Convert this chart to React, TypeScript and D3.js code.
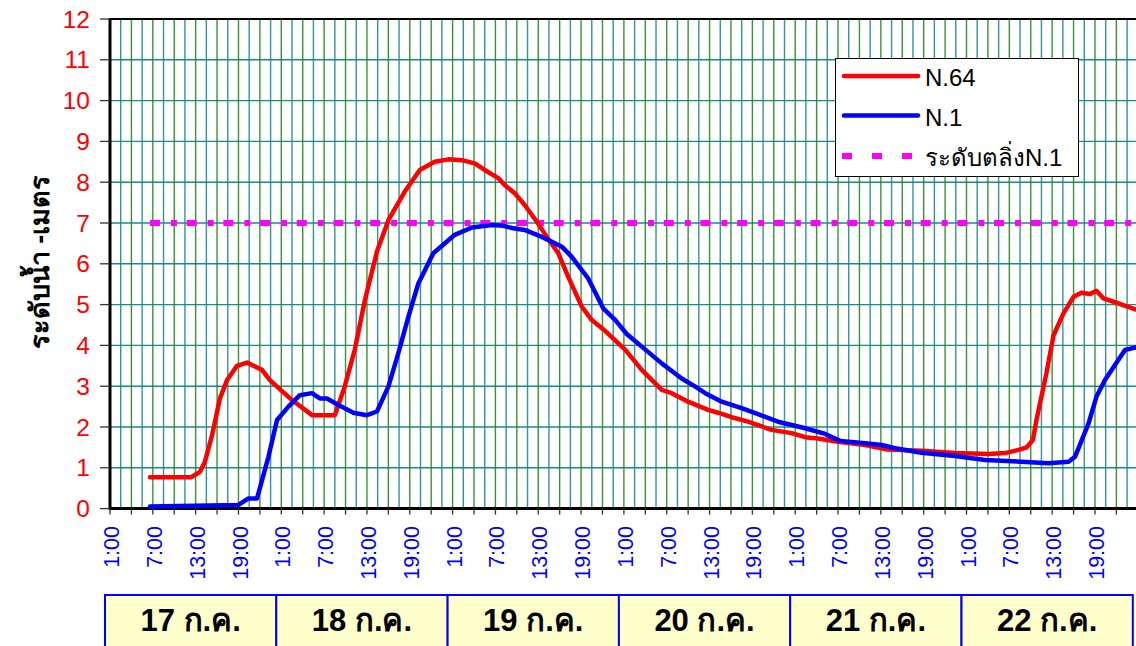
import * as d3 from "d3";

// hours counted from 17 ก.ค. 1:00
const dayLabels = ["17 ก.ค.", "18 ก.ค.", "19 ก.ค.", "20 ก.ค.", "21 ก.ค.", "22 ก.ค."];
const hourLabels = ["1:00", "7:00", "13:00", "19:00"];
const yTickValues = [0, 1, 2, 3, 4, 5, 6, 7, 8, 9, 10, 11, 12];

const n64Hours = [5.6, 11.4, 12.6, 13.3, 14.3, 15.4, 16.4, 17.8, 19.2, 21.3, 22.4, 25.5, 28.3, 31.5, 32.9, 34.3, 35.7, 37.4, 39.0, 41.3, 43.4, 45.5, 47.4, 49.3, 51.1, 52.5, 54.4, 55.3, 56.7, 58.1, 59.8, 61.2, 62.8, 64.2, 66.1, 67.5, 69.4, 72.2, 74.5, 77.3, 78.7, 81.0, 83.8, 85.2, 87.1, 89.4, 92.7, 95.5, 97.4, 99.2, 102.0, 105.8, 109.0, 113.7, 118.4, 123.1, 125.4, 127.3, 128.4, 129.3, 129.8, 131.2, 132.2, 133.6, 135.0, 136.1, 137.3, 138.2, 139.2, 140.6, 143.7];
const n64Level = [0.77, 0.77, 0.9, 1.15, 1.8, 2.7, 3.15, 3.5, 3.58, 3.4, 3.15, 2.66, 2.29, 2.29, 3.0, 3.9, 5.1, 6.3, 7.07, 7.77, 8.3, 8.5, 8.56, 8.54, 8.46, 8.3, 8.1, 7.93, 7.73, 7.44, 7.03, 6.66, 6.26, 5.68, 4.95, 4.62, 4.35, 3.89, 3.4, 2.91, 2.83, 2.62, 2.42, 2.35, 2.24, 2.13, 1.93, 1.85, 1.75, 1.72, 1.64, 1.56, 1.45, 1.42, 1.36, 1.34, 1.36, 1.44, 1.5, 1.68, 2.17, 3.32, 4.25, 4.79, 5.19, 5.29, 5.26, 5.34, 5.15, 5.07, 4.88];

const n1Hours = [5.6, 18.0, 19.4, 20.6, 21.3, 22.2, 23.4, 25.0, 26.6, 28.3, 29.4, 30.4, 32.0, 34.1, 36.0, 37.4, 39.0, 40.4, 41.8, 43.2, 45.3, 48.3, 50.7, 53.5, 55.1, 56.5, 58.1, 60.5, 63.3, 64.7, 67.0, 69.1, 70.8, 72.4, 74.5, 77.3, 80.1, 82.0, 83.4, 85.7, 88.5, 90.4, 93.6, 97.4, 100.2, 102.3, 105.8, 108.1, 110.0, 113.7, 118.4, 122.6, 127.7, 131.5, 134.3, 135.2, 137.1, 138.2, 139.4, 142.2, 143.7];
const n1Level = [0.05, 0.09, 0.25, 0.25, 0.7, 1.27, 2.17, 2.5, 2.78, 2.83, 2.7, 2.7, 2.54, 2.35, 2.29, 2.38, 2.99, 3.81, 4.7, 5.52, 6.26, 6.71, 6.89, 6.95, 6.93, 6.87, 6.83, 6.66, 6.42, 6.17, 5.64, 4.91, 4.62, 4.28, 3.97, 3.56, 3.19, 2.99, 2.83, 2.62, 2.46, 2.34, 2.13, 1.97, 1.83, 1.66, 1.6, 1.56, 1.48, 1.37, 1.29, 1.19, 1.15, 1.11, 1.15, 1.27, 2.09, 2.74, 3.15, 3.89, 3.95];

const bankHours = [5.6, 144];
const bankLevel = [7, 7];

const W = 1136;
const H = 646;
const font = "Arial, 'Liberation Sans', Tahoma, sans-serif";

export default function App() {
  const x = d3.scaleLinear().domain([0, 144]).range([110, 1137.8]);
  const y = d3.scaleLinear().domain([0, 12]).range([508.6, 19]);

  const line = d3
    .line<[number, number]>()
    .x((d) => x(d[0]))
    .y((d) => y(d[1]));

  const n64 = n64Hours.map((h, i) => [h, n64Level[i]] as [number, number]);
  const n1 = n1Hours.map((h, i) => [h, n1Level[i]] as [number, number]);
  const bank = bankHours.map((h, i) => [h, bankLevel[i]] as [number, number]);

  const gridHours = d3.range(1.5, 144, 1.5);
  const tickHours = d3.range(0, 145, 3);
  const labelHours = d3.range(0, 144, 6);

  const [y0, y1] = y.range();

  return (
    <svg width={W} height={H} style={{ position: "absolute", left: 0, top: 0, background: "#fff" }} fontFamily={font}>
      {/* horizontal grid */}
      {yTickValues.slice(1, -1).map((v) => (
        <line key={"h" + v} x1={x(0)} x2={W} y1={y(v)} y2={y(v)} stroke="#1a8a8a" strokeWidth={1.4} />
      ))}
      {/* vertical grid */}
      {gridHours.map((h, i) => (
        <line
          key={"v" + h}
          x1={x(h)}
          x2={x(h)}
          y1={y1}
          y2={y0}
          stroke={i % 2 === 1 ? "#1f8a1f" : "#1a8a8a"}
          strokeOpacity={0.9}
          strokeWidth={1.4}
        />
      ))}

      {/* frame */}
      <line x1={x(0)} x2={W} y1={y1} y2={y1} stroke="#000" strokeWidth={2} />
      <line x1={x(0)} x2={W} y1={y0} y2={y0} stroke="#000" strokeWidth={3} />
      <line x1={x(0)} x2={x(0)} y1={y1 - 1} y2={y0 + 1.5} stroke="#000" strokeWidth={3} />

      {/* y ticks */}
      {yTickValues.map((v) => (
        <g key={"yt" + v}>
          <line x1={100} x2={x(0)} y1={y(v)} y2={y(v)} stroke="#333" strokeWidth={1.3} />
          <text x={90} y={y(v)} dy="0.35em" textAnchor="end" fontSize={24.5} fill="#ff0000">
            {v}
          </text>
        </g>
      ))}

      {/* x ticks */}
      {tickHours.map((h) => (
        <line key={"xt" + h} x1={x(h)} x2={x(h)} y1={y0} y2={y0 + 6} stroke="#333" strokeWidth={1.3} />
      ))}
      {labelHours.map((h, i) => (
        <text
          key={"xl" + h}
          transform={`translate(${x(h) + 1.5},526) rotate(-90)`}
          dy="0.35em"
          textAnchor="end"
          fontSize={21.5}
          fill="#0000ff"
        >
          {hourLabels[i % 4]}
        </text>
      ))}

      {/* threshold */}
      <path d={line(bank) || ""} fill="none" stroke="#ff00ff" strokeWidth={6} strokeDasharray="10,11,6,9.7" />

      {/* series */}
      <path d={line(n64) || ""} fill="none" stroke="#ff0000" strokeWidth={4.5} strokeLinejoin="round" strokeLinecap="round" />
      <path d={line(n1) || ""} fill="none" stroke="#0000ff" strokeWidth={4.5} strokeLinejoin="round" strokeLinecap="round" />

      {/* y title */}
      <text
        transform="translate(40,262) rotate(-90)"
        textAnchor="middle"
        dy="0.35em"
        fontSize={27}
        fontWeight="bold"
        fill="#000"
      >
        ระดับน้ำ -เมตร
      </text>

      {/* legend */}
      <g>
        <rect x={835.5} y={58.5} width={243} height={118} fill="#fff" stroke="#000" strokeWidth={1} />
        <line x1={844} x2={918} y1={76} y2={76} stroke="#ff0000" strokeWidth={4.5} strokeLinecap="round" />
        <text x={925} y={86} fontSize={24} fill="#000">N.64</text>
        <line x1={844} x2={918} y1={115.5} y2={115.5} stroke="#0000ff" strokeWidth={4.5} strokeLinecap="round" />
        <text x={925} y={126} fontSize={24} fill="#000">N.1</text>
        <line x1={842} x2={913} y1={156} y2={156} stroke="#ff00ff" strokeWidth={6} strokeDasharray="10,20" />
        <text x={925} y={166} fontSize={24} fill="#000">ระดับตลิ่งN.1</text>
      </g>

      {/* date boxes */}
      {dayLabels.map((d, i) => {
        const a = x(i * 24) - 5;
        const b = x((i + 1) * 24) - 5;
        return (
          <g key={"d" + i}>
            <rect x={a} y={595} width={b - a} height={60} fill="#ffffcc" stroke="#0000ff" strokeWidth={2} />
            <text x={(a + b) / 2} y={631} textAnchor="middle" fontSize={31} fontWeight="bold" fill="#000">
              {d}
            </text>
          </g>
        );
      })}
    </svg>
  );
}
